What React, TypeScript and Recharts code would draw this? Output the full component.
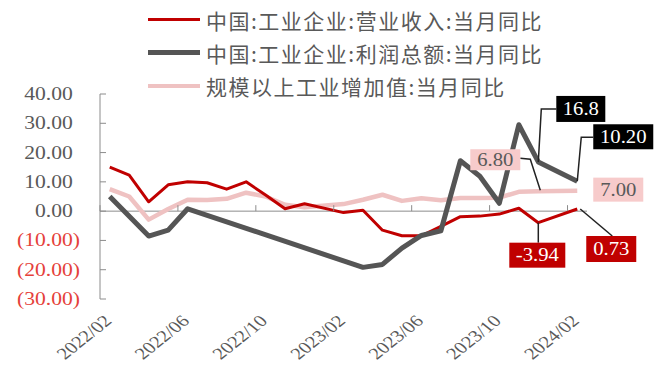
import React from "react";
import { LineChart, Line, XAxis, YAxis, ReferenceLine, LabelList } from "recharts";

const months = [
  "2022/02", "2022/03", "2022/04", "2022/05", "2022/06", "2022/07", "2022/08",
  "2022/09", "2022/10", "2022/11", "2022/12", "2023/01", "2023/02", "2023/03",
  "2023/04", "2023/05", "2023/06", "2023/07", "2023/08", "2023/09", "2023/10",
  "2023/11", "2023/12", "2024/01", "2024/02",
];
// 中国:工业企业:营业收入:当月同比
const revenue = [
  15.0, 12.3, 3.2, 9.0, 10.0, 9.7, 7.5, 10.0, 5.5, 0.8, 2.5, null, -0.5, 0.3,
  -6.5, -8.4, -8.4, -5.2, -1.9, -1.7, -1.0, 1.0, -3.94, null, 0.73,
];
// 中国:工业企业:利润总额:当月同比
const profit = [
  5.0, null, -8.5, -6.5, 0.8, null, null, null, null, null, null, null, null,
  -19.2, -18.2, -12.6, -8.3, -6.7, 17.2, 11.9, 2.7, 29.5, 16.8, null, 10.2,
];
// 规模以上工业增加值:当月同比
const valueAdded = [
  7.5, 5.0, -2.9, 0.7, 3.9, 3.8, 4.2, 6.3, 5.0, 2.2, 1.3, null, 2.4, 3.9, 5.6,
  3.5, 4.4, 3.7, 4.5, 4.5, 4.6, 6.6, 6.8, null, 7.0,
];
const yTicks = [-30, -20, -10, 0, 10, 20, 30, 40];

const seriesNames = [
  "中国:工业企业:营业收入:当月同比",
  "中国:工业企业:利润总额:当月同比",
  "规模以上工业增加值:当月同比",
];

const RED = "#C00000";
const DARK = "#555555";
const PINK = "#EFC2C2";
const AXIS = "#8C8C8C";
const TEXT = "#595959";
const NEG = "#E5413A";

const W = 666;
const H = 383;
const M = { top: 94, right: 79, left: 0, bottom: 0 };
const Y_W = 100;
const PLOT_LEFT = M.left + Y_W;
const PLOT_W = W - M.left - M.right - Y_W;
const PLOT_H = 205;
const STEP = PLOT_W / months.length;
const ZERO_Y = M.top + (PLOT_H * 40) / 70;

const data = months.map((m, i) => ({
  month: m,
  revenue: revenue[i],
  profit: profit[i],
  valueAdded: valueAdded[i],
}));

// callout boxes: box = [dx, dy, w, h] from the point, leader = polyline from the point
const annotations = [
  { key: "profit", index: 22, digits: 1, bg: "#000", fg: "#fff", box: [18, -66, 49, 26], leader: [[0, 0], [3, -53], [18, -53]] },
  { key: "profit", index: 24, digits: 2, bg: "#000", fg: "#fff", box: [16, -57, 60, 25], leader: [[0, 0], [4, -44], [16, -44]] },
  { key: "valueAdded", index: 22, digits: 2, bg: "#F7CBCB", fg: TEXT, box: [-68, -42, 50, 21], leader: [[2, -1], [-8, -32], [-18, -33]] },
  { key: "valueAdded", index: 24, digits: 2, bg: "#F7CBCB", fg: TEXT, box: [16, -13, 50, 24], leader: [] },
  { key: "revenue", index: 22, digits: 2, bg: RED, fg: "#fff", box: [-29, 20, 56, 25], leader: [[0, 0], [0, 20]] },
  { key: "revenue", index: 24, digits: 2, bg: RED, fg: "#fff", box: [9, 27, 50, 26], leader: [[3, 0], [35, 27]] },
];

const makeCallout = (key: string) => (props: any) => {
  const { x, y, value, index } = props;
  const a = annotations.find((n) => n.key === key && n.index === index);
  if (!a || value == null) return null;
  const [bx, by, bw, bh] = a.box;
  return (
    <g>
      {a.leader.length > 0 && (
        <polyline
          points={a.leader.map(([px, py]) => `${x + px},${y + py}`).join(" ")}
          fill="none"
          stroke="#222"
          strokeWidth={1.5}
        />
      )}
      <rect x={x + bx} y={y + by} width={bw} height={bh} fill={a.bg} />
      <text
        transform={`translate(${x + bx + bw / 2},${y + by + bh / 2 + 6}) scale(1.15,1)`}
        textAnchor="middle"
        fontFamily="Liberation Serif"
        fontSize={18}
        fill={a.fg}
      >
        {Number(value).toFixed(a.digits)}
      </text>
    </g>
  );
};

const YTick = (props: any) => {
  const { y, payload } = props;
  const v = payload.value as number;
  const neg = v < 0;
  const label = neg ? `(${Math.abs(v).toFixed(2)})` : v.toFixed(2);
  return (
    <g>
      <line x1={PLOT_LEFT} x2={PLOT_LEFT + 6} y1={y} y2={y} stroke={AXIS} />
      <text
        transform={`translate(80,${y + 6}) scale(1.2,1)`}
        x={neg ? 0 : -6}
        textAnchor="end"
        fontFamily="Liberation Serif"
        fontSize={18}
        fill={neg ? NEG : TEXT}
      >
        {label}
      </text>
    </g>
  );
};

const XTick = (props: any) => {
  const { x, payload } = props;
  const edge = x - STEP / 2;
  return (
    <g>
      <line x1={edge} x2={edge} y1={ZERO_Y - 6} y2={ZERO_Y} stroke={AXIS} />
      <text
        transform={`translate(${x + 3},${M.top + PLOT_H + 23}) scale(1.25,1) rotate(-45)`}
        textAnchor="end"
        fontFamily="Liberation Serif"
        fontSize={16.5}
        fill={TEXT}
      >
        {payload.value}
      </text>
    </g>
  );
};

const legendItems = [
  { name: seriesNames[0], color: RED, thick: 3.5 },
  { name: seriesNames[1], color: DARK, thick: 4.5 },
  { name: seriesNames[2], color: PINK, thick: 4 },
];

export default function App() {
  return (
    <div style={{ position: "absolute", left: 0, top: 0, width: W, height: H, background: "#fff" }}>
      <LineChart width={W} height={H} data={data} margin={M}>
        <XAxis
          dataKey="month"
          interval={3}
          axisLine={false}
          tickLine={false}
          height={H - M.top - PLOT_H - M.bottom}
          padding={{ left: STEP / 2, right: STEP / 2 }}
          tick={<XTick />}
        />
        <YAxis
          width={Y_W}
          domain={[-30, 40]}
          ticks={yTicks}
          interval={0}
          axisLine={{ stroke: AXIS }}
          tickLine={false}
          tick={<YTick />}
        />
        <ReferenceLine y={0} stroke={AXIS} strokeWidth={1} />
        <Line
          dataKey="valueAdded"
          stroke={PINK}
          strokeWidth={4.5}
          dot={false}
          activeDot={false}
          connectNulls
          strokeLinejoin="round"
          isAnimationActive={false}
        >
          <LabelList dataKey="valueAdded" content={makeCallout("valueAdded")} />
        </Line>
        <Line
          dataKey="revenue"
          stroke={RED}
          strokeWidth={3}
          dot={false}
          activeDot={false}
          connectNulls
          strokeLinejoin="round"
          isAnimationActive={false}
        >
          <LabelList dataKey="revenue" content={makeCallout("revenue")} />
        </Line>
        <Line
          dataKey="profit"
          stroke={DARK}
          strokeWidth={5}
          dot={false}
          activeDot={false}
          connectNulls
          strokeLinejoin="round"
          isAnimationActive={false}
        >
          <LabelList dataKey="profit" content={makeCallout("profit")} />
        </Line>
      </LineChart>
      <div style={{ position: "absolute", left: 148, top: 3 }}>
        {legendItems.map((it) => (
          <div key={it.name} style={{ display: "flex", alignItems: "center", height: 33 }}>
            <span style={{ display: "inline-block", width: 52, height: it.thick, background: it.color }} />
            <span
              style={{
                marginLeft: 6,
                fontFamily: "'Noto Sans CJK SC'",
                fontSize: 21,
                letterSpacing: 1.5,
                color: TEXT,
                whiteSpace: "nowrap",
              }}
            >
              {it.name}
            </span>
          </div>
        ))}
      </div>
    </div>
  );
}
